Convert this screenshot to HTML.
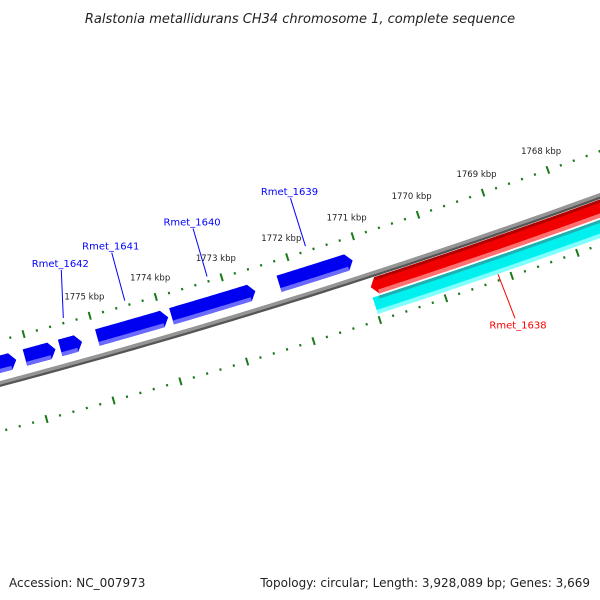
<!DOCTYPE html>
<html><head><meta charset="utf-8"><style>
body{margin:0;background:#fff;}
svg{display:block;font-family:"DejaVu Sans","Liberation Sans",sans-serif;}
</style></head><body>
<svg id="map" width="600" height="600" viewBox="0 0 600 600">
<text x="300" y="23" text-anchor="middle" font-size="13" font-style="italic" fill="#222">Ralstonia metallidurans CH34 chromosome 1, complete sequence</text>
<g id="layer"></g>
<text x="9" y="587" font-size="12" fill="#222">Accession: NC_007973</text>
<text x="590" y="587" font-size="12" text-anchor="end" fill="#222">Topology: circular; Length: 3,928,089 bp; Genes: 3,669</text>
</svg>
<script>
// data (kbp)
const kbpLabels = [1768, 1769, 1770, 1771, 1772, 1773, 1774, 1775];
const fwdGeneStarts = [1776.6, 1776.07, 1775.54, 1774.98, 1773.86, 1772.23];
const fwdGeneEnds   = [1776.20, 1775.61, 1775.21, 1773.91, 1772.59, 1771.11];
const greyGeneStart = 1776.6, greyGeneEnd = 1776.42;
const revGeneStart = 1765.5, revGeneEnd = 1770.98;
const cdsStart = 1765.5, cdsEnd = 1771.0;
const geneNames = ["Rmet_1642", "Rmet_1641", "Rmet_1640", "Rmet_1639"];
const geneLabelPos = [1775.38, 1774.45, 1773.2, 1771.7];
const revLabelPos = 1769.18;

const CX = -1812, CY = -6450;
const R_BB = 7070, R_TOP = 7028, R_BOT = 7116, R_FWD = 7051, R_GREY = 7040, R_REV = 7082, R_CDS = 7101;
function ang(k){ return (72.06 + 0.56*(k-1771)) * Math.PI/180; }
function P(r,k){ const a=ang(k); return [CX + r*Math.cos(a), CY + r*Math.sin(a)]; }
const NS="http://www.w3.org/2000/svg";
const layer=document.getElementById('layer');
function mk(tag, attrs){ const e=document.createElementNS(NS,tag); for(const a in attrs) e.setAttribute(a,attrs[a]); layer.appendChild(e); return e; }
function arcPts(r,k1,k2,n){ const pts=[]; for(let i=0;i<=n;i++){ pts.push(P(r,k1+(k2-k1)*i/n)); } return pts; }
function str(pts){ return pts.map(p=>p[0].toFixed(2)+','+p[1].toFixed(2)).join(' '); }

// backbone
let bb=mk('polyline',{points:str(arcPts(R_BB+1.5,1765,1778,60)),fill:'none',stroke:'#555','stroke-width':3});


let bb2=mk('polyline',{points:str(arcPts(R_BB-1,1765,1778,60)),fill:'none',stroke:'#959595','stroke-width':3.5});



// ticks
for(let i=0;i<=60;i++){
  const k=1765+i*0.2;
  const major=Math.abs(k-Math.round(k))<1e-6;
  [R_TOP,R_BOT].forEach(r=>{
    const h=major?4:1.2;
    const a=P(r-h,k), b=P(r+h,k);
    const t=mk('line',{x1:a[0],y1:a[1],x2:b[0],y2:b[1],stroke:'#1a7a1a','stroke-width':2});
    
    
  });
}
kbpLabels.forEach(k=>{
  const p=P(7008,k);
  const t=mk('text',{x:p[0],y:p[1]+3,'font-size':8.5,'text-anchor':'middle',fill:'#222'});
  t.textContent=k+' kbp';
  
  
});

function gene(r,k1,k2,dir,cMain,cLight,cDark,name,arrow){
  const hi=Math.max(k1,k2), lo=Math.min(k1,k2), h=8.5, ah=0.09;
  let pts=[];
  if(dir>0){
    const e=arrow?lo+ah:lo;
    pts=pts.concat(arcPts(r-h,hi,e,20)); if(arrow) pts.push(P(r,lo));
    pts=pts.concat(arcPts(r+h,e,hi,20));
  } else {
    const s=arrow?hi-ah:hi;
    pts=pts.concat(arcPts(r-h,lo,s,20)); if(arrow) pts.push(P(r,hi));
    pts=pts.concat(arcPts(r+h,s,lo,20));
  }
  const g=mk('polygon',{points:str(pts),fill:cMain});
  
  
  const lower=dir>0?arcPts(r+h-2,hi,lo+(arrow?ah:0),20):arcPts(r+h-2,lo,hi-(arrow?ah:0),20);
  const l=mk('polyline',{points:str(lower),fill:'none',stroke:cLight,'stroke-width':4});
  
  
  if(cDark){
    const up=dir>0?arcPts(r-h+1.5,hi,lo+ah,20):arcPts(r-h+1.5,lo,hi-ah,20);
    const d=mk('polyline',{points:str(up),fill:'none',stroke:cDark,'stroke-width':3});
    
    
  }
}
gene(R_GREY,greyGeneStart,greyGeneEnd,1,'#c8c8c8','#e0e0e0',null,'grey-gene',false);
fwdGeneStarts.forEach((s,i)=>gene(R_FWD,s,fwdGeneEnds[i],1,'#0000f0','#6a6aff',null,'forward-gene-'+(i+1),true));
gene(R_REV,revGeneStart,revGeneEnd,-1,'#f00000','#ff7070','#b00000','reverse-gene-rmet-1638',true);
gene(R_CDS,cdsStart,cdsEnd,-1,'#00f0f0','#80ffff','#20b0b0','cds-rmet-1638',false);

// gene labels
geneNames.forEach((n,i)=>{
  const k=geneLabelPos[i];
  const b=P(R_TOP-5,k);
  const dx=i===0?-2:-12-i;
  const a=[b[0]+dx,b[1]-48];
  const ln=mk('line',{x1:b[0],y1:b[1],x2:a[0],y2:a[1],stroke:'#00f','stroke-width':1});
  
  
  const t=mk('text',{x:a[0]-1,y:a[1]-3,'font-size':10,'text-anchor':'middle',fill:'#00f'});
  t.textContent=n;
  
  
});
(function(){
  const a=P(R_CDS+9,revLabelPos);
  const b=[a[0]+17,a[1]+44];
  const ln=mk('line',{x1:a[0],y1:a[1],x2:b[0],y2:b[1],stroke:'#f00','stroke-width':1});
  
  
  const t=mk('text',{x:b[0]+3,y:b[1]+10,'font-size':10,'text-anchor':'middle',fill:'#f00'});
  t.textContent='Rmet_1638';
  
  
})();
</script>
</body></html>
